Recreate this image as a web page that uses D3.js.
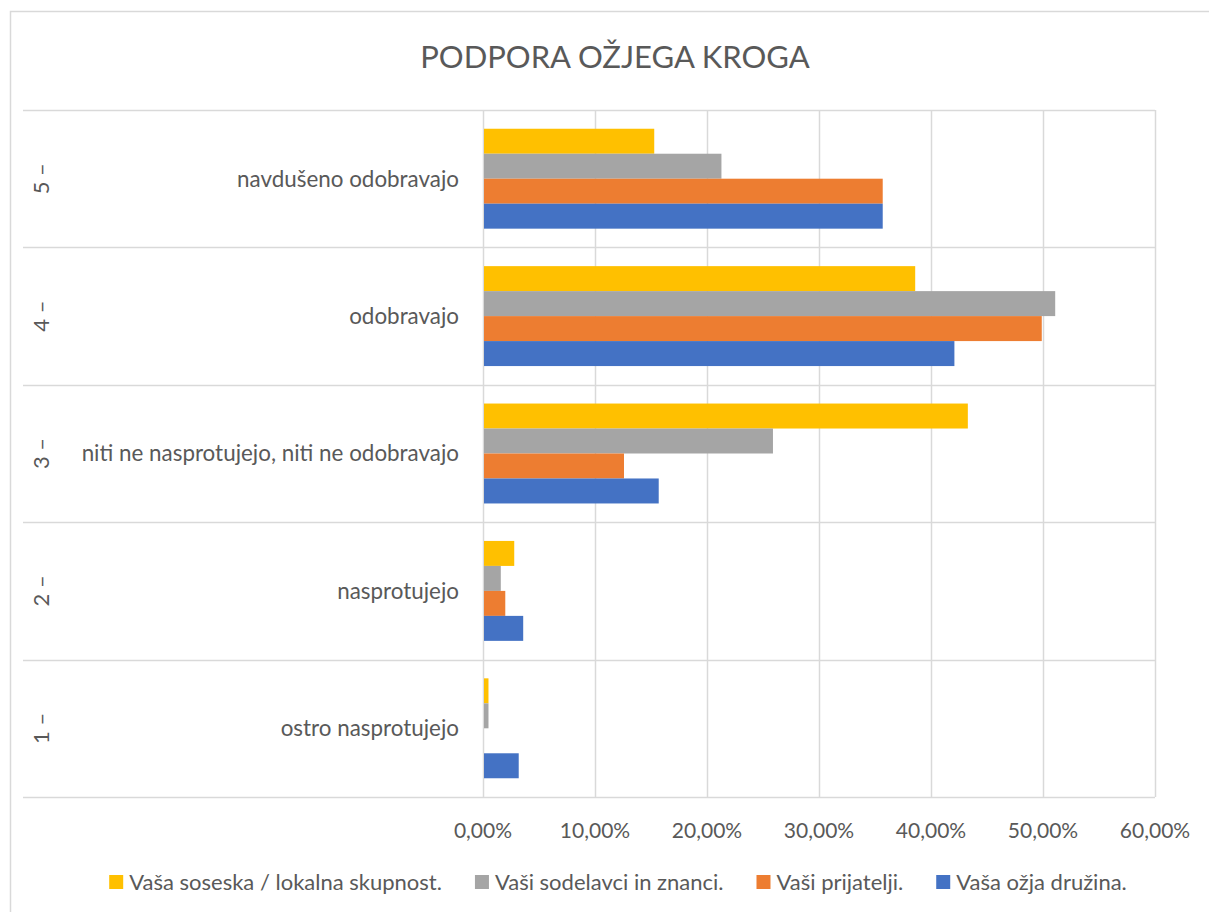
<!DOCTYPE html>
<html>
<head>
<meta charset="utf-8">
<script src="https://cdn.jsdelivr.net/npm/d3@7"></script>
<style>
  body { margin: 0; background: #fff; }
  text { font-family: Lato, "Noto Sans", sans-serif; fill: #595959; }
</style>
</head>
<body>
<script>
// categories, top to bottom
const levels = ["5 –", "4 –", "3 –", "2 –", "1 –"];
const categories = ["navdušeno odobravajo", "odobravajo", "niti ne nasprotujejo, niti ne odobravajo", "nasprotujejo", "ostro nasprotujejo"];
const seriesNames = ["Vaša soseska / lokalna skupnost.", "Vaši sodelavci in znanci.", "Vaši prijatelji.", "Vaša ožja družina."];
const seriesColors = ["#ffc000", "#a5a5a5", "#ed7d31", "#4472c4"];
// values in %, one array per series, same order as categories
const soseska = [15.2, 38.5, 43.2, 2.7, 0.4];
const sodelavci = [21.2, 51.0, 25.8, 1.5, 0.4];
const prijatelji = [35.6, 49.8, 12.5, 1.9, 0];
const druzina = [35.6, 42.0, 15.6, 3.5, 3.1];
const xTicks = [0, 10, 20, 30, 40, 50, 60];

const seriesValues = [soseska, sodelavci, prijatelji, druzina];

const W = 1209, H = 912;
const plotLeft = 483, plotRight = 1155, plotTop = 110, plotBottom = 797;

const svg = d3.select("body").append("svg")
    .attr("width", W)
    .attr("height", H);

//chart border
svg.append("path")
    .attr("d", "M10.5," + H + " V11.5 H" + W)
    .attr("fill", "none")
    .attr("stroke", "#d9d9d9")
    .attr("stroke-width", 1.5);

//title
svg.append("text")
    .attr("x", 615)
    .attr("y", 68)
    .attr("text-anchor", "middle")
    .style("font-size", "31px")
    .text("PODPORA OŽJEGA KROGA");

const x = d3.scaleLinear().domain([0, 60]).range([plotLeft, plotRight]);
const y0 = d3.scaleBand().domain(categories).range([plotTop, plotBottom]);
const y1 = d3.scaleBand().domain(d3.range(seriesNames.length))
    .range([0, y0.bandwidth()])
    .paddingOuter(0.75);

//vertical gridlines
svg.append("g")
    .selectAll("line")
    .data(xTicks)
    .enter()
    .append("line")
    .attr("x1", d => Math.round(x(d)) + 0.5)
    .attr("x2", d => Math.round(x(d)) + 0.5)
    .attr("y1", plotTop)
    .attr("y2", plotBottom)
    .attr("stroke", "#d9d9d9")
    .attr("stroke-width", 1.5);

//category separators
const seps = categories.map(c => y0(c)).concat([plotBottom]);
svg.append("g")
    .selectAll("line")
    .data(seps)
    .enter()
    .append("line")
    .attr("x1", 23)
    .attr("x2", plotRight)
    .attr("y1", d => Math.round(d) + 0.5)
    .attr("y2", d => Math.round(d) + 0.5)
    .attr("stroke", "#d9d9d9")
    .attr("stroke-width", 1.5);

//x tick labels
svg.append("g")
    .selectAll("text")
    .data(xTicks)
    .enter()
    .append("text")
    .attr("x", d => x(d))
    .attr("y", 838)
    .attr("text-anchor", "middle")
    .style("font-size", "21px")
    .text(d => d3.format(".2f")(d).replace(".", ",") + "%");

//bars
const groups = svg.append("g")
    .selectAll("g")
    .data(categories)
    .enter()
    .append("g")
    .attr("transform", d => "translate(0," + y0(d) + ")");

groups.selectAll("rect")
    .data((c, i) => seriesValues.map((vals, s) => ({s: s, v: vals[i]})))
    .enter()
    .append("rect")
    .attr("x", x(0) + 1)
    .attr("y", d => y1(d.s))
    .attr("width", d => Math.max(0, x(d.v) - x(0)))
    .attr("height", y1.bandwidth())
    .attr("fill", d => seriesColors[d.s]);

//category labels
groups.append("text")
    .attr("x", 459)
    .attr("y", y0.bandwidth() / 2)
    .attr("dy", "0.35em")
    .attr("text-anchor", "end")
    .style("font-size", "22.4px")
    .text(d => d);

//outer level labels, rotated
groups.append("text")
    .attr("transform", "translate(49," + (y0.bandwidth() / 2) + ") rotate(-90)")
    .attr("text-anchor", "middle")
    .style("font-size", "22px")
    .text((d, i) => levels[i]);

//legend
const legend = svg.append("g");
const items = legend.selectAll("g")
    .data(seriesNames)
    .enter()
    .append("g");
items.append("rect")
    .attr("width", 14)
    .attr("height", 14)
    .attr("y", -7)
    .attr("fill", (d, i) => seriesColors[i]);
items.append("text")
    .attr("x", 20)
    .attr("dy", "0.35em")
    .style("font-size", "22px")
    .text(d => d);

let widths = [];
items.each(function () { widths.push(this.getBBox().width); });
const gap = 33;
const total = d3.sum(widths) + gap * (widths.length - 1);
let cx = 618 - total / 2;
items.attr("transform", (d, i) => {
    const t = "translate(" + cx + ",882)";
    cx += widths[i] + gap;
    return t;
});
</script>
</body>
</html>
